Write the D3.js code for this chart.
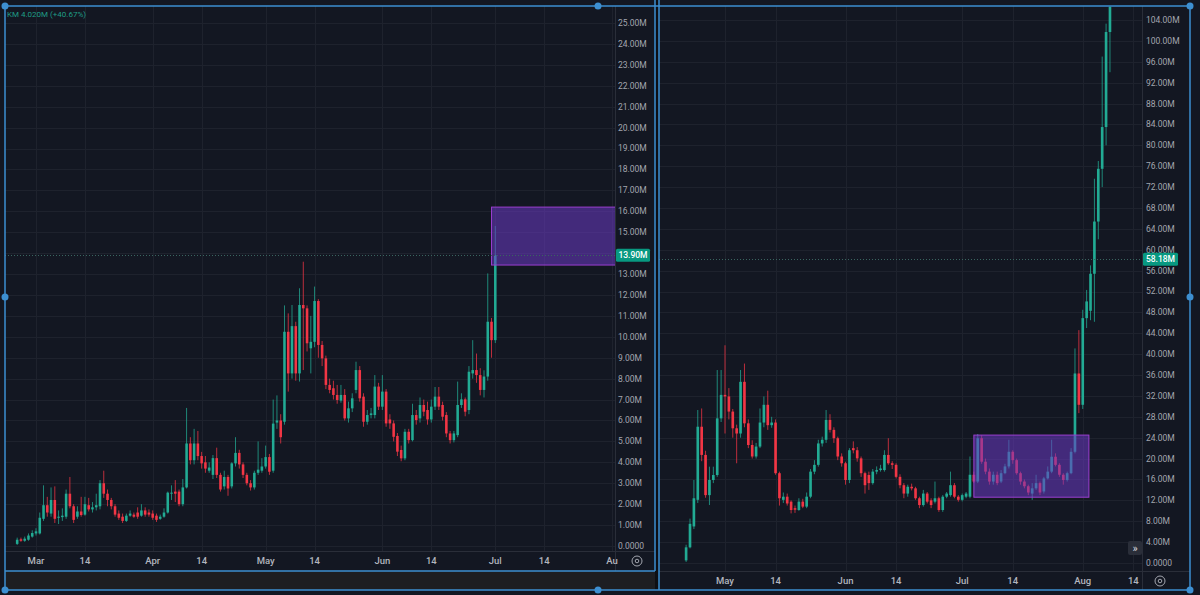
<!DOCTYPE html>
<html><head><meta charset="utf-8">
<script src="https://cdn.jsdelivr.net/npm/d3@7"></script>
<style>html,body{margin:0;padding:0;background:#131722;}svg{display:block}</style>
</head><body>
<svg id="c" width="1200" height="595"></svg>
<script>
// ---------------- DATA ----------------
const legendText = "KM 4.020M (+40.67%)";

// Left chart: daily candles starting 2023-02-24 (values in millions)
const leftStart = "2023-02-24";
const leftOpen  = [0.1,0.32,0.25,0.3,0.45,0.6,0.6,1.3,1.95,1.55,2.2,1.35,1.38,1.4,2.5,1.9,1.4,1.65,1.5,1.95,1.75,1.85,1.9,3.0,2.5,2.2,1.9,1.55,1.4,1.2,1.45,1.5,1.6,1.45,1.7,1.6,1.55,1.45,1.3,1.4,1.6,2.5,2.6,2.6,2.0,2.8,4.9,4.1,4.9,4.3,4.0,3.6,3.4,4.2,3.4,2.85,3.3,2.85,3.95,4.45,3.9,3.4,3.0,2.8,3.5,3.6,3.8,4.25,3.6,5.9,6.0,5.94,10.24,8.25,10.51,8.25,11.52,11.36,9.45,9.76,11.71,9.61,8.97,7.70,7.54,7.22,6.95,7.22,6.10,6.58,7.46,8.41,7.14,5.94,6.26,6.26,7.62,6.66,7.38,6.05,5.86,5.26,4.59,4.19,5.46,5.06,6.26,6.10,6.74,6.50,6.05,6.66,7.14,6.74,6.26,5.38,5.06,5.30,6.74,7.01,6.50,8.25,8.41,8.17,7.46,8.10,10.72,9.84];
const leftHigh  = [0.4,0.4,0.45,0.6,0.75,0.85,1.6,2.9,2.35,2.8,2.85,1.7,1.8,2.7,3.3,2.0,1.9,2.35,2.35,2.3,2.1,2.5,3.15,3.6,2.7,2.3,2.0,1.7,1.55,1.55,1.7,1.6,1.85,2.0,1.85,1.75,1.7,1.55,1.5,1.8,2.6,2.9,3.15,2.7,3.2,6.6,5.2,5.6,5.5,4.5,4.3,4.0,4.35,4.7,3.5,3.6,3.4,4.0,5.2,4.6,4.0,3.5,3.15,3.6,5.0,4.2,4.8,4.4,7.0,7.2,6.3,11.5,11.12,11.52,10.72,12.32,13.59,11.5,11.0,12.4,11.8,9.8,9.1,8.0,7.9,7.7,7.7,7.5,6.9,7.3,8.81,8.6,7.3,6.5,6.6,8.17,7.8,8.17,7.5,6.3,6.0,5.4,4.8,5.6,5.6,6.8,6.5,7.1,7.0,6.9,7.0,7.6,7.6,6.9,6.4,5.5,5.5,7.86,7.3,7.1,8.6,9.84,9.2,8.5,8.4,13.03,10.9,15.3];
const leftLow   = [0.05,0.2,0.2,0.25,0.4,0.5,0.55,1.2,1.4,1.4,1.1,1.05,1.2,1.3,1.8,1.1,1.3,1.4,1.45,1.65,1.6,1.7,1.75,2.3,1.9,1.75,1.4,1.25,1.1,1.15,1.4,1.35,1.3,1.4,1.4,1.4,1.25,1.15,1.25,1.35,1.55,2.2,2.1,1.9,1.9,2.75,3.9,3.9,4.1,3.7,3.5,3.5,3.2,3.25,2.6,2.7,2.4,2.75,3.8,3.7,3.25,2.9,2.65,2.7,3.4,3.5,3.7,3.4,3.5,5.6,4.9,5.8,7.38,8.0,7.9,7.86,8.41,9.3,8.25,9.5,9.0,8.6,7.5,7.3,7.0,6.8,6.85,6.0,5.9,6.4,7.3,6.9,5.7,5.8,6.1,6.1,6.5,6.5,5.7,5.6,5.0,4.3,4.05,4.1,4.9,5.0,5.8,5.9,6.2,5.8,5.9,6.5,6.5,6.0,5.2,4.9,4.95,5.2,6.6,6.2,6.3,8.0,7.8,7.2,7.1,7.9,9.0,9.7];
const leftClose = [0.3,0.25,0.35,0.5,0.62,0.7,1.35,1.95,1.6,2.2,1.3,1.4,1.45,2.5,1.9,1.25,1.65,1.48,2.0,1.75,1.85,1.95,3.0,2.5,2.2,1.9,1.5,1.35,1.2,1.45,1.55,1.4,1.4,1.7,1.5,1.5,1.35,1.25,1.4,1.6,2.55,2.55,2.5,2.0,2.8,4.9,4.1,4.9,4.3,3.95,3.7,3.75,4.2,3.4,2.7,3.3,2.75,3.95,4.45,3.9,3.4,3.0,2.8,3.5,3.65,3.8,4.25,3.55,5.85,6.0,5.2,10.24,8.25,10.51,8.25,11.52,11.36,9.69,9.76,11.71,9.61,8.97,7.70,7.46,7.22,6.98,7.22,6.10,6.58,7.06,8.41,7.06,5.94,6.26,6.34,7.62,6.66,7.38,5.86,5.86,5.22,4.51,4.19,5.46,5.06,6.26,6.02,6.74,6.42,6.05,6.66,7.14,6.66,6.18,5.38,5.06,5.38,6.74,7.01,6.42,8.33,8.41,8.17,7.46,8.10,10.72,9.84,13.90];

// Right chart: daily candles starting 2023-04-21 (values in millions)
const rightStart = "2023-04-21";
const rightOpen  = [0.5,3.0,7.0,12.1,26.1,20.7,13.0,15.9,16.85,27.7,32.2,31.9,29.0,25.8,24.8,34.7,26.75,22.6,20.4,22.3,26.9,30.3,26.4,26.9,17.2,12.1,12.7,11.75,10.5,10.15,11.75,10.8,12.7,17.5,18.8,22.9,23.6,27.4,25.5,23.9,20.4,19.1,15.9,22.0,21.6,20.04,17.2,16.85,15.3,17.5,17.8,17.8,20.7,19.1,18.8,16.5,14.9,13.3,14.6,14.3,12.4,11.1,13.3,12.0,11.75,12.4,10.15,12.7,13.0,14.9,12.7,12.1,12.7,12.7,16.9,15.6,23.9,19.4,17.5,15.6,16.9,15.6,17.2,18.5,21.3,19.7,17.2,15.6,14.7,13.3,14.3,15.3,13.7,16.2,17.5,20.35,18.8,16.9,15.9,17.2,21.3,36.3,30.3,46.9,48.3,55.4,65.4,75.5,83.5,101.7];
const rightHigh  = [3.5,8.5,15.9,29.3,29.6,21.5,18.45,18.45,36.96,36.96,41.7,33.5,29.5,26.5,36.96,38.2,27.5,23.5,23.0,29.6,31.9,33.0,28.0,27.5,17.5,13.5,13.3,12.0,11.0,12.4,12.3,13.5,18.0,19.7,23.6,24.2,29.3,28.5,26.0,24.2,21.0,19.4,22.0,23.3,22.2,20.4,17.5,17.5,18.0,18.5,18.8,21.6,23.9,19.5,19.1,17.0,15.3,15.0,15.2,14.6,12.7,14.0,13.6,12.4,15.6,12.7,13.0,13.6,17.5,15.3,13.0,13.3,13.6,20.4,17.5,24.7,24.5,20.0,18.1,17.5,17.5,17.8,19.0,23.6,21.6,20.0,17.5,16.0,15.0,15.3,16.9,15.6,16.5,18.5,23.6,21.0,19.1,17.2,17.5,22.0,41.1,44.6,48.5,52.3,57.0,73.6,77.0,97.0,103.3,107.0];
const rightLow   = [0.2,2.8,6.5,11.5,19.5,12.5,11.1,15.3,16.5,27.0,24.8,27.5,24.0,19.1,24.0,26.0,22.0,20.0,20.0,22.0,26.0,25.5,25.9,16.9,11.0,11.5,11.0,9.5,9.6,10.0,10.5,10.5,12.4,17.0,18.45,22.3,23.0,25.0,23.0,19.7,18.45,15.0,15.3,21.0,19.4,16.5,13.3,14.0,15.0,17.0,17.5,17.5,18.8,18.0,16.2,14.3,12.4,12.7,13.9,12.1,10.5,10.8,11.4,10.5,11.4,9.8,9.8,12.4,12.7,12.4,11.75,11.8,12.4,12.4,15.3,15.3,19.0,17.0,15.0,15.0,14.9,15.3,17.0,18.1,19.0,16.9,15.0,14.3,13.0,12.1,14.0,13.0,13.3,16.0,17.2,18.5,16.5,15.0,15.6,17.0,21.0,28.7,29.5,45.0,46.5,46.2,62.0,72.0,80.0,94.0];
const rightClose = [3.0,7.5,12.4,26.1,20.7,13.0,15.9,16.85,27.7,32.2,31.9,29.0,25.8,24.8,34.7,26.75,22.6,20.4,22.3,26.9,30.3,26.4,26.9,17.2,12.4,12.7,11.4,10.15,10.2,11.75,10.8,12.7,17.5,18.8,22.9,23.6,27.4,25.5,23.9,20.4,19.1,15.9,21.6,21.6,20.04,17.2,14.9,15.3,17.5,17.8,18.1,20.7,19.1,18.8,16.5,14.9,13.3,14.6,14.3,12.4,11.1,13.3,11.75,11.1,12.4,10.15,12.7,13.3,14.9,12.7,12.1,13.0,13.3,16.9,15.6,23.9,19.4,17.5,15.6,16.9,15.3,17.2,18.5,21.3,19.7,17.2,15.6,14.7,13.5,14.3,15.3,13.5,16.2,17.5,20.35,18.8,16.9,15.9,17.2,21.3,36.3,30.3,46.9,50.1,55.4,65.4,75.5,83.5,101.7,106.5];

// Axis tick labels
const leftTimeLabels = ["Mar","14","Apr","14","May","14","Jun","14","Jul","14","Au"];
const leftTimeDates  = ["2023-03-01","2023-03-14","2023-04-01","2023-04-14","2023-05-01","2023-05-14","2023-06-01","2023-06-14","2023-07-01","2023-07-14","2023-08-01"];
const rightTimeLabels = ["May","14","Jun","14","Jul","14","Aug","14"];
const rightTimeDates  = ["2023-05-01","2023-05-14","2023-06-01","2023-06-14","2023-07-01","2023-07-14","2023-08-01","2023-08-14"];
const leftPriceTicks  = [0,1,2,3,4,5,6,7,8,9,10,11,12,13,14,15,16,17,18,19,20,21,22,23,24,25];
const rightPriceTicks = [0,4,8,12,16,20,24,28,32,36,40,44,48,52,56,60,64,68,72,76,80,84,88,92,96,100,104];

// Last-price badges
const leftLastPrice = 13.90;
const rightLastPrice = 58.18;

// Highlight boxes (date range, price range)
const leftBox  = {from:"2023-06-30", to:"2023-08-20", low:13.43, high:16.2};
const rightBox = {from:"2023-07-04", to:"2023-08-02T14:00", low:12.6, high:24.5};

// ---------------- DRAW ----------------
const UP = "#22ab94", DOWN = "#f23645";
const BG = "#131722", GRID = "#1e222d", SEP = "#2a2e39", TXT = "#a3a6af", FRAME = "#3d8fd1";
const FONT = "Roboto, 'DejaVu Sans', sans-serif";
const parse = s => new Date(s.length > 10 ? s + "Z" : s + "T00:00:00Z");
const svg = d3.select("#c");

svg.append("rect").attr("width",1200).attr("height",595).attr("fill",BG);

function makeCandles(start, O, H, L, C) {
  const s = parse(start);
  return O.map((o,i) => ({date: d3.utcDay.offset(s, i), o, h:H[i], l:L[i], c:C[i]}));
}

function drawPanel(cfg) {
  const g = svg.append("g");
  const x = d3.scaleUtc().domain(cfg.xDomain.map(parse)).range(cfg.xRange);
  const y = d3.scaleLinear().domain(cfg.yDomain).range(cfg.yRange);
  const P = cfg.plot;
  const clipId = "clip" + cfg.id;
  svg.append("clipPath").attr("id", clipId).append("rect")
    .attr("x",P.x0).attr("y",P.y0).attr("width",P.x1-P.x0).attr("height",P.y1-P.y0);

  g.append("rect").attr("x",P.x0).attr("y",P.y0).attr("width",cfg.outer.x1-P.x0).attr("height",cfg.outer.y1-P.y0).attr("fill",BG);

  const grid = g.append("g").attr("clip-path",`url(#${clipId})`);
  grid.selectAll("line.v").data(cfg.timeDates.map(parse)).join("line")
    .attr("x1",d=>Math.round(x(d))+0.5).attr("x2",d=>Math.round(x(d))+0.5).attr("y1",P.y0).attr("y2",P.y1)
    .attr("stroke",GRID).attr("stroke-width",1);
  grid.selectAll("line.h").data(cfg.priceTicks).join("line")
    .attr("x1",P.x0).attr("x2",P.x1).attr("y1",d=>Math.round(y(d))+0.5).attr("y2",d=>Math.round(y(d))+0.5)
    .attr("stroke",GRID).attr("stroke-width",1);

  const data = cfg.candles;
  const step = x(d3.utcDay.offset(parse(cfg.xDomain[0]),1)) - x(parse(cfg.xDomain[0]));
  const bw = Math.max(1.5, step*0.68);
  const cg = g.append("g").attr("clip-path",`url(#${clipId})`);
  cg.selectAll("line.wick").data(data).join("line")
    .attr("x1",d=>x(d.date)).attr("x2",d=>x(d.date))
    .attr("y1",d=>y(d.h)).attr("y2",d=>y(d.l))
    .attr("stroke",d=>d.c>=d.o?UP:DOWN).attr("stroke-width",0.9).attr("opacity",0.85);
  cg.selectAll("rect.body").data(data).join("rect")
    .attr("x",d=>x(d.date)-bw/2).attr("width",bw)
    .attr("y",d=>y(Math.max(d.o,d.c)))
    .attr("height",d=>Math.max(1, Math.abs(y(d.o)-y(d.c))))
    .attr("fill",d=>d.c>=d.o?UP:DOWN);

  const b = cfg.box;
  cg.append("rect")
    .attr("x",x(parse(b.from))).attr("width",x(parse(b.to))-x(parse(b.from)))
    .attr("y",y(b.high)).attr("height",y(b.low)-y(b.high))
    .attr("fill","rgba(108,58,196,0.55)").attr("stroke","#9b3fd0").attr("stroke-width",1);

  cg.append("line").attr("x1",P.x0).attr("x2",P.x1)
    .attr("y1",Math.round(y(cfg.last))+0.5).attr("y2",Math.round(y(cfg.last))+0.5)
    .attr("stroke","#3a6560").attr("stroke-width",1).attr("stroke-dasharray","1,2");

  g.append("line").attr("x1",P.x1+0.5).attr("x2",P.x1+0.5).attr("y1",P.y0).attr("y2",cfg.outer.y1)
    .attr("stroke",SEP);
  g.append("line").attr("x1",P.x0).attr("x2",cfg.outer.x1).attr("y1",P.y1+0.5).attr("y2",P.y1+0.5)
    .attr("stroke",SEP);

  g.selectAll("text.p").data(cfg.priceTicks).join("text")
    .attr("x",cfg.priceLabelX).attr("y",d=>y(d)).attr("dy","0.35em")
    .attr("fill",TXT).attr("font-family",FONT).attr("font-size",8.5)
    .text(d=> d===0 ? "0.0000" : d.toFixed(2)+"M");

  g.selectAll("text.t").data(cfg.timeDates).join("text")
    .attr("x",d=>x(parse(d))).attr("y",cfg.timeLabelY).attr("dy","0.35em")
    .attr("text-anchor","middle").attr("fill","#b2b5be").attr("font-family",FONT).attr("font-size",9.5).attr("font-weight",500)
    .text((d,i)=>cfg.timeLabels[i]);

  const by = y(cfg.last);
  g.append("rect").attr("x",P.x1+1).attr("y",by-6.5).attr("width",cfg.badgeW).attr("height",13).attr("rx",1.5).attr("fill","#089981");
  g.append("text").attr("x",P.x1+1+cfg.badgeW/2).attr("y",by).attr("dy","0.35em").attr("text-anchor","middle")
    .attr("fill","#ffffff").attr("font-family",FONT).attr("font-size",8.5).attr("font-weight",500)
    .text(cfg.last.toFixed(2)+"M");

  const ex = cfg.eye[0], ey = cfg.eye[1];
  g.append("circle").attr("cx",ex).attr("cy",ey).attr("r",5).attr("fill","none").attr("stroke",TXT).attr("stroke-width",1);
  g.append("circle").attr("cx",ex).attr("cy",ey).attr("r",1.8).attr("fill","none").attr("stroke",TXT).attr("stroke-width",1);
  return {x, y};
}

drawPanel({
  id:"L", candles: makeCandles(leftStart,leftOpen,leftHigh,leftLow,leftClose),
  xDomain:["2023-03-01","2023-08-01"], xRange:[36,612],
  yDomain:[0,25], yRange:[546,23],
  plot:{x0:5,x1:615,y0:6,y1:551}, outer:{x1:655,y1:571},
  timeDates:leftTimeDates, timeLabels:leftTimeLabels, priceTicks:leftPriceTicks,
  priceLabelX:618, timeLabelY:561, last:leftLastPrice, badgeW:34, box:leftBox, eye:[637,561]
});

drawPanel({
  id:"R", candles: makeCandles(rightStart,rightOpen,rightHigh,rightLow,rightClose),
  xDomain:["2023-05-01","2023-08-14"], xRange:[725,1133.3],
  yDomain:[0,104], yRange:[563,20],
  plot:{x0:659,x1:1142,y0:6,y1:571}, outer:{x1:1190,y1:590},
  timeDates:rightTimeDates, timeLabels:rightTimeLabels, priceTicks:rightPriceTicks,
  priceLabelX:1146, timeLabelY:581, last:rightLastPrice, badgeW:35, box:rightBox, eye:[1160,581]
});

svg.append("rect").attr("x",5).attr("y",571).attr("width",650).attr("height",19).attr("fill","#1d1e22");
svg.append("rect").attr("x",655).attr("y",0).attr("width",4).attr("height",590).attr("fill","#0d0f14");

svg.append("rect").attr("x",1128).attr("y",541).attr("width",14).attr("height",14).attr("rx",2).attr("fill","#2a2e39");
svg.append("text").attr("x",1135).attr("y",548).attr("dy","0.35em").attr("text-anchor","middle")
  .attr("fill","#d1d4dc").attr("font-family",FONT).attr("font-size",11).text("»");

svg.append("text").attr("x",7).attr("y",17).attr("fill","#1f9d86").attr("font-family",FONT).attr("font-size",8)
  .text(legendText);

const fr = svg.append("g").attr("fill","none").attr("stroke",FRAME).attr("stroke-width",1.5);
fr.append("rect").attr("x",5).attr("y",6).attr("width",1185).attr("height",584);
fr.append("line").attr("x1",655).attr("x2",655).attr("y1",0).attr("y2",571);
fr.append("line").attr("x1",659).attr("x2",659).attr("y1",0).attr("y2",590);
fr.append("line").attr("x1",5).attr("x2",655).attr("y1",571).attr("y2",571);
const handles = [[5,6],[598,6],[1190,6],[5,297],[1190,297],[5,590],[598,590],[1190,590]];
svg.selectAll("circle.hd").data(handles).join("circle")
  .attr("cx",d=>d[0]).attr("cy",d=>d[1]).attr("r",3.5).attr("fill",FRAME);
</script>
</body></html>
